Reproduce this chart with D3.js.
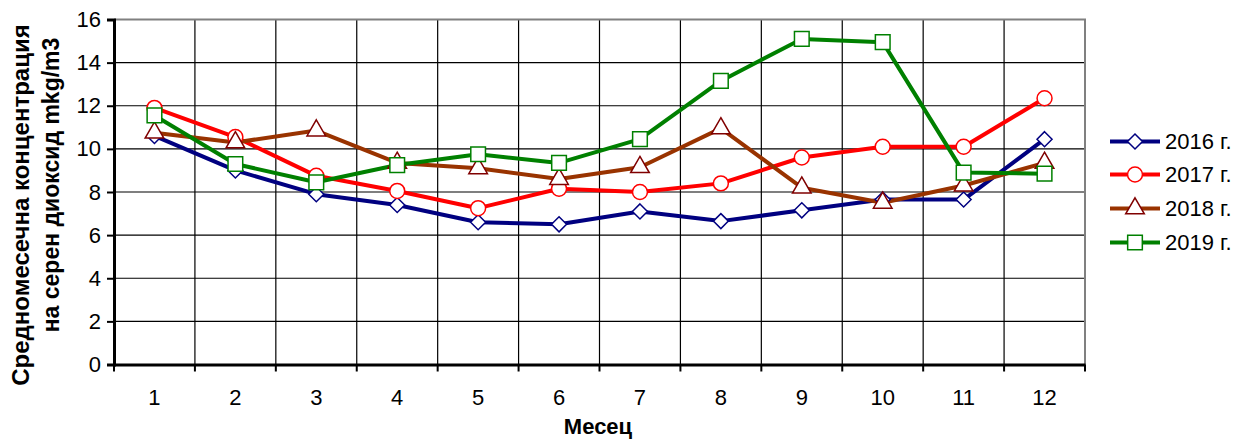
<!DOCTYPE html>
<html><head><meta charset="utf-8">
<script src="https://cdn.jsdelivr.net/npm/d3@7/dist/d3.min.js"></script>
<style>
html,body{margin:0;padding:0;background:#fff;}
text{font-family:Arial,"Liberation Sans",sans-serif;}
</style></head>
<body><svg id="c" width="1236" height="444"></svg>
<script>
const months = ["1","2","3","4","5","6","7","8","9","10","11","12"];
const yTicks = [0,2,4,6,8,10,12,14,16];
const seriesNames = ["2016 г.","2017 г.","2018 г.","2019 г."];
const v2016 = [10.6, 9.0, 7.9, 7.4, 6.6, 6.5, 7.1, 6.65, 7.15, 7.65, 7.65, 10.45];
const v2017 = [11.9, 10.55, 8.75, 8.05, 7.25, 8.15, 8.0, 8.4, 9.6, 10.1, 10.1, 12.35];
const v2018 = [10.75, 10.3, 10.85, 9.35, 9.1, 8.6, 9.15, 10.95, 8.2, 7.5, 8.3, 9.35];
const v2019 = [11.55, 9.3, 8.45, 9.25, 9.75, 9.35, 10.45, 13.15, 15.1, 14.95, 8.9, 8.85];
const lineColors = ["#000080","#ff0000","#993300","#008000"];
const markerStroke = ["#000080","#ff0000","#800000","#008000"];
const allSeries = [v2016, v2017, v2018, v2019];

// marker shapes (Excel-like)
const diamondSym = { draw(ctx, size) { const r = Math.sqrt(size) / 2; ctx.moveTo(0, -r); ctx.lineTo(r, 0); ctx.lineTo(0, r); ctx.lineTo(-r, 0); ctx.closePath(); } };
const markerTypes = [diamondSym, d3.symbolCircle, d3.symbolTriangle, d3.symbolSquare];
const markerSizes = [225, 175, 150, 215];

const svg = d3.select("#c");
const L = 114, R = 1085, T = 19.5, B = 364.5;
const x = d3.scaleBand().domain(months).range([L, R]);
const y = d3.scaleLinear().domain([0, 16]).range([B, T]);
const FONT = "Arial, 'Liberation Sans', sans-serif";

// gridlines
const g = svg.append("g");
g.selectAll("line.h").data(yTicks.filter(d => d > 0 && d < 16)).enter().append("line")
  .attr("x1", L).attr("x2", R).attr("y1", d => y(d)).attr("y2", d => y(d))
  .attr("stroke", "#000").attr("stroke-width", 1.2);
g.selectAll("line.v").data(months.slice(1)).enter().append("line")
  .attr("x1", d => x(d)).attr("x2", d => x(d)).attr("y1", T).attr("y2", B)
  .attr("stroke", "#000").attr("stroke-width", 1.2);
// top & right border
svg.append("path").attr("d", `M${L},${T}H${R}V${B}`).attr("fill", "none")
  .attr("stroke", "#808080").attr("stroke-width", 2);

// y axis
const yAxis = svg.append("g").attr("transform", `translate(${L},0)`)
  .call(d3.axisLeft(y).tickValues(yTicks).tickSize(7).tickPadding(6));
yAxis.select(".domain").attr("stroke", "#000").attr("stroke-width", 3);
yAxis.selectAll(".tick line").attr("stroke", "#000").attr("stroke-width", 2);
yAxis.selectAll(".tick text").attr("font-size", 22).attr("font-family", FONT).attr("fill", "#000");

// x axis
const xAxis = svg.append("g").attr("transform", `translate(0,${B})`)
  .call(d3.axisBottom(x).tickSize(0).tickPadding(0));
xAxis.select(".domain").attr("stroke", "#000").attr("stroke-width", 3);
xAxis.selectAll(".tick text").attr("font-size", 22).attr("font-family", FONT).attr("fill", "#000")
  .attr("y", 40).attr("dy", 0);
// boundary ticks
svg.append("g").selectAll("line").data(d3.range(13)).enter().append("line")
  .attr("x1", i => L + i * x.step()).attr("x2", i => L + i * x.step())
  .attr("y1", B).attr("y2", B + 7).attr("stroke", "#000").attr("stroke-width", 2);

// series
const line = d3.line().x((d, i) => x(months[i]) + x.bandwidth() / 2).y(d => y(d));
allSeries.forEach((vals, si) => {
  svg.append("path").attr("d", line(vals)).attr("fill", "none")
    .attr("stroke", lineColors[si]).attr("stroke-width", 4).attr("stroke-linejoin", "round");
});
allSeries.forEach((vals, si) => {
  svg.append("g").selectAll("path").data(vals).enter().append("path")
    .attr("d", d3.symbol().type(markerTypes[si]).size(markerSizes[si]))
    .attr("transform", (d, i) => `translate(${x(months[i]) + x.bandwidth() / 2},${y(d)})`)
    .attr("fill", "#fff").attr("stroke", markerStroke[si]).attr("stroke-width", 1.5);
});

// legend
const legY = [141.5, 174.5, 208.5, 242.5];
seriesNames.forEach((name, si) => {
  const lg = svg.append("g");
  lg.append("line").attr("x1", 1110).attr("x2", 1160).attr("y1", legY[si]).attr("y2", legY[si])
    .attr("stroke", lineColors[si]).attr("stroke-width", 4);
  lg.append("path").attr("d", d3.symbol().type(markerTypes[si]).size(markerSizes[si]))
    .attr("transform", `translate(1135,${legY[si]})`)
    .attr("fill", "#fff").attr("stroke", markerStroke[si]).attr("stroke-width", 1.5);
  lg.append("text").attr("x", 1165).attr("y", legY[si]).attr("dy", "0.36em")
    .attr("font-size", 22).attr("fill", "#000").text(name);
});

// axis titles
svg.append("text").attr("x", 598).attr("y", 434).attr("text-anchor", "middle")
  .attr("font-size", 22).attr("font-weight", "bold").text("Месец");
const yt = svg.append("g").attr("font-weight", "bold");
yt.append("text").attr("transform", "rotate(-90)").attr("text-anchor", "middle")
  .attr("font-size", 24).attr("x", -205).attr("y", 29).text("Средномесечна концентрация");
yt.append("text").attr("transform", "rotate(-90)").attr("text-anchor", "middle")
  .attr("font-size", 23).attr("x", -185).attr("y", 58.5).text("на серен диоксид mkg/m3");
</script></body></html>
